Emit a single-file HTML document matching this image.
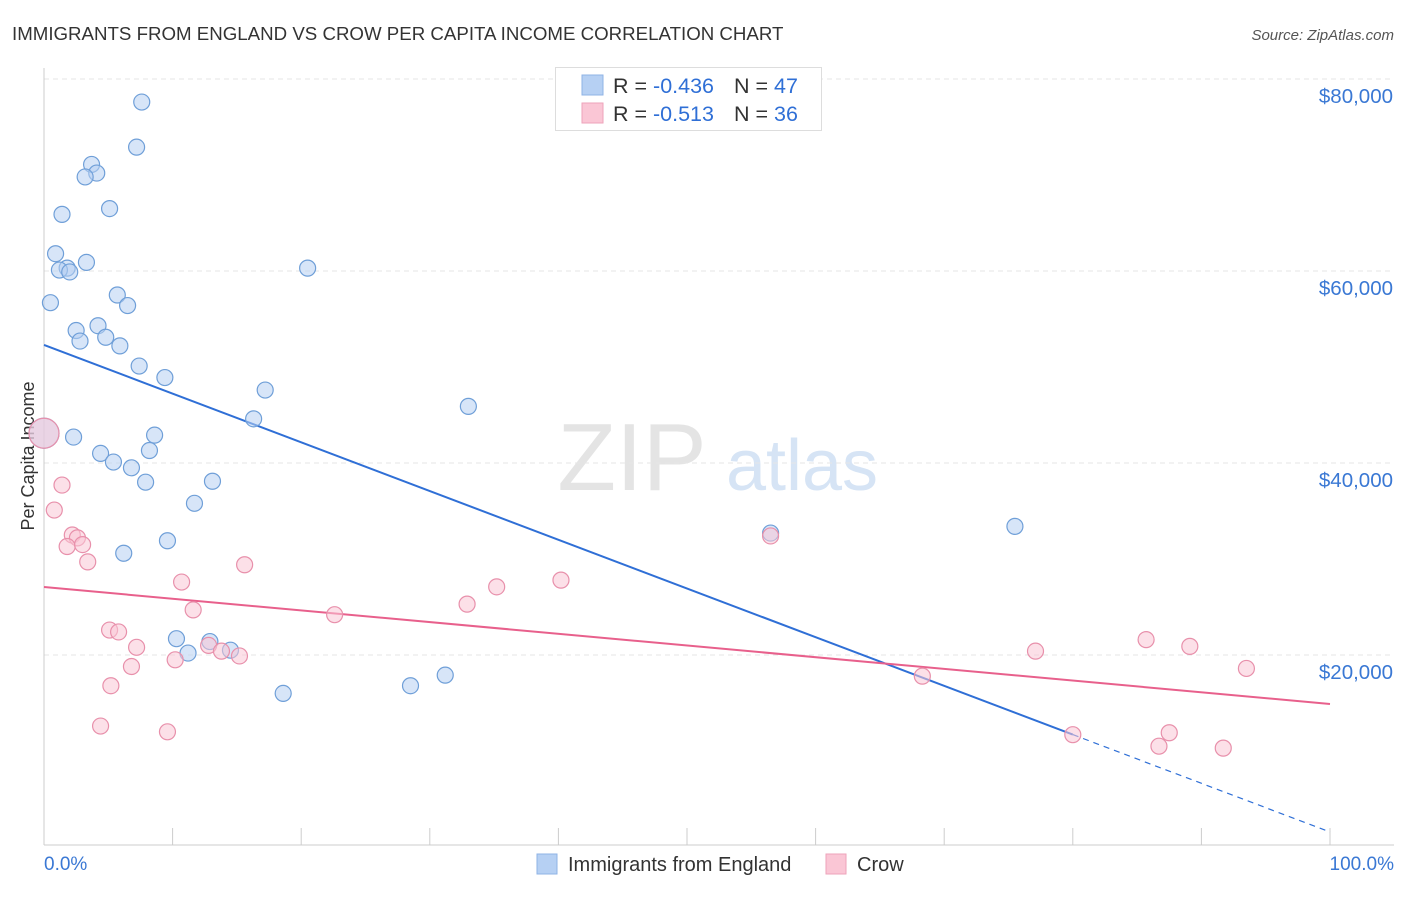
<!DOCTYPE html>
<html><head><meta charset="utf-8"><style>
body{margin:0;background:#fff;font-family:"Liberation Sans",sans-serif;}
svg text{font-family:"Liberation Sans",sans-serif;}
</style></head><body>
<svg id="chart" width="1406" height="892">
<text x="12" y="40" font-size="18.7" fill="#333">IMMIGRANTS FROM ENGLAND VS CROW PER CAPITA INCOME CORRELATION CHART</text>
<text x="1394" y="40" font-size="15" fill="#555" font-style="italic" text-anchor="end">Source: ZipAtlas.com</text>
<text x="34" y="456" font-size="18" fill="#333" text-anchor="middle" transform="rotate(-90 34 456)">Per Capita Income</text>
<g><text x="632" y="490" font-size="96" fill="#e4e4e4" font-family="Liberation Serif" text-anchor="middle">ZIP</text><text x="802" y="490" font-size="72" fill="#d6e4f5" text-anchor="middle">atlas</text></g>
<g id="grid"></g><g id="axes"></g><g id="lines"></g><g id="pts"></g>
<g>
<rect x="555.5" y="67.5" width="266" height="63" fill="#fff" stroke="#ddd"/>
<rect x="582" y="75" width="21" height="20" fill="#b6d0f3" stroke="#8fb3e6"/>
<rect x="582" y="103" width="21" height="20" fill="#fac6d5" stroke="#eea3ba"/>
<text x="613" y="93" font-size="21.5" fill="#333">R = <tspan fill="#2f6fd6">-0.436</tspan><tspan x="734">N = </tspan><tspan fill="#2f6fd6">47</tspan></text>
<text x="613" y="121" font-size="21.5" fill="#333">R = <tspan x="653" fill="#2f6fd6">-0.513</tspan><tspan x="734">N = </tspan><tspan fill="#2f6fd6">36</tspan></text>
</g>
<g>
<rect x="537" y="854" width="20" height="20" fill="#b6d0f3" stroke="#8fb3e6"/>
<text x="568" y="871" font-size="20" fill="#333">Immigrants from England</text>
<rect x="826" y="854" width="20" height="20" fill="#fac6d5" stroke="#eea3ba"/>
<text x="857" y="871" font-size="20" fill="#333">Crow</text>
</g>
</svg>
<script>
const yTicks=[20000,40000,60000,80000];
const yTickLabels=["$20,000","$40,000","$60,000","$80,000"];
const xTicks=[0,10,20,30,40,50,60,70,80,90,100];
const blueX=[7.6,7.2,3.7,4.1,3.2,5.1,1.4,0.9,1.8,1.2,2.0,3.3,20.5,0.5,5.7,6.5,2.5,4.2,2.8,4.8,5.9,7.4,9.4,17.2,16.3,33.0,0,2.3,8.6,4.4,8.2,5.4,6.8,7.9,13.1,11.7,9.6,6.2,56.5,75.5,10.3,12.9,11.2,14.5,18.6,28.5,31.2];
const blueY=[77600,72900,71100,70200,69800,66500,65900,61800,60300,60100,59900,60900,60300,56700,57500,56400,53800,54300,52700,53100,52200,50100,48900,47600,44600,45900,43100,42700,42900,41000,41300,40100,39500,38000,38100,35800,31900,30600,32700,33400,21700,21400,20200,20500,16000,16800,17900];
const pinkX=[0,1.4,0.8,2.2,2.6,1.8,3.0,3.4,15.6,10.7,40.2,35.2,32.9,11.6,22.6,5.1,5.8,7.2,12.8,13.8,15.2,10.2,6.8,5.2,4.4,9.6,56.5,77.1,85.7,89.1,93.5,68.3,80.0,87.5,86.7,91.7];
const pinkY=[43100,37700,35100,32500,32200,31300,31500,29700,29400,27600,27800,27100,25300,24700,24200,22600,22400,20800,21000,20400,19900,19500,18800,16800,12600,12000,32400,20400,21600,20900,18600,17800,11700,11900,10500,10300];
const blueTrend=[52300,1560];
const pinkTrend=[27080,14900];
const blueSolidEnd=80;
const NS="http://www.w3.org/2000/svg";
const X=v=>44+v*12.86, Y=v=>847-v*0.0096;
function mk(p,t,a){const e=document.createElementNS(NS,t);for(const k in a)e.setAttribute(k,a[k]);document.getElementById(p).appendChild(e);return e;}
yTicks.forEach((t,i)=>{
 const l=mk('grid','line',{x1:44,x2:1394,y1:Y(t),y2:Y(t),stroke:'#e6e6e6','stroke-dasharray':'5,4'});
 
 
 const tx=mk('grid','text',{x:1393,y:Y(t)+24,'font-size':20.5,fill:'#3a78d4','text-anchor':'end'});
 tx.textContent=yTickLabels[i];
 
 
});
const ax=mk('axes','line',{x1:44,x2:44,y1:68,y2:845,stroke:'#ccc'});


const bx=mk('axes','line',{x1:44,x2:1394,y1:845,y2:845,stroke:'#ccc'});


xTicks.forEach(t=>{const l=mk('axes','line',{x1:X(t),x2:X(t),y1:828,y2:845,stroke:'#ccc'});
 
 });
const t0=mk('axes','text',{x:44,y:870,'font-size':19,fill:'#3a78d4'});t0.textContent='0.0%';


const t1=mk('axes','text',{x:1394,y:870,'font-size':19,fill:'#3a78d4','text-anchor':'end'});t1.textContent='100.0%';


function pt(x,y,fill,stroke,name){const r=x===0?15:8;const c=mk('pts','circle',{cx:X(x),cy:Y(y),r:r,fill:fill,'fill-opacity':0.55,stroke:stroke,'stroke-width':1.2});
 
 }
blueX.forEach((x,i)=>pt(x,blueY[i],'#b6d0f3','#6f9fd8','england-point'));
pinkX.forEach((x,i)=>pt(x,pinkY[i],'#fac6d5','#e890ab','crow-point'));
const bv=x=>blueTrend[0]+(blueTrend[1]-blueTrend[0])*x/100;
const b1=mk('lines','line',{x1:X(0),y1:Y(bv(0)),x2:X(blueSolidEnd),y2:Y(bv(blueSolidEnd)),stroke:'#2f6fd6','stroke-width':2});


const b2=mk('lines','line',{x1:X(blueSolidEnd),y1:Y(bv(blueSolidEnd)),x2:X(100),y2:Y(bv(100)),stroke:'#2f6fd6','stroke-width':1.2,'stroke-dasharray':'6,5'});


const p1=mk('lines','line',{x1:X(0),y1:Y(pinkTrend[0]),x2:X(100),y2:Y(pinkTrend[1]),stroke:'#e8608c','stroke-width':2});


</script>
</body></html>
